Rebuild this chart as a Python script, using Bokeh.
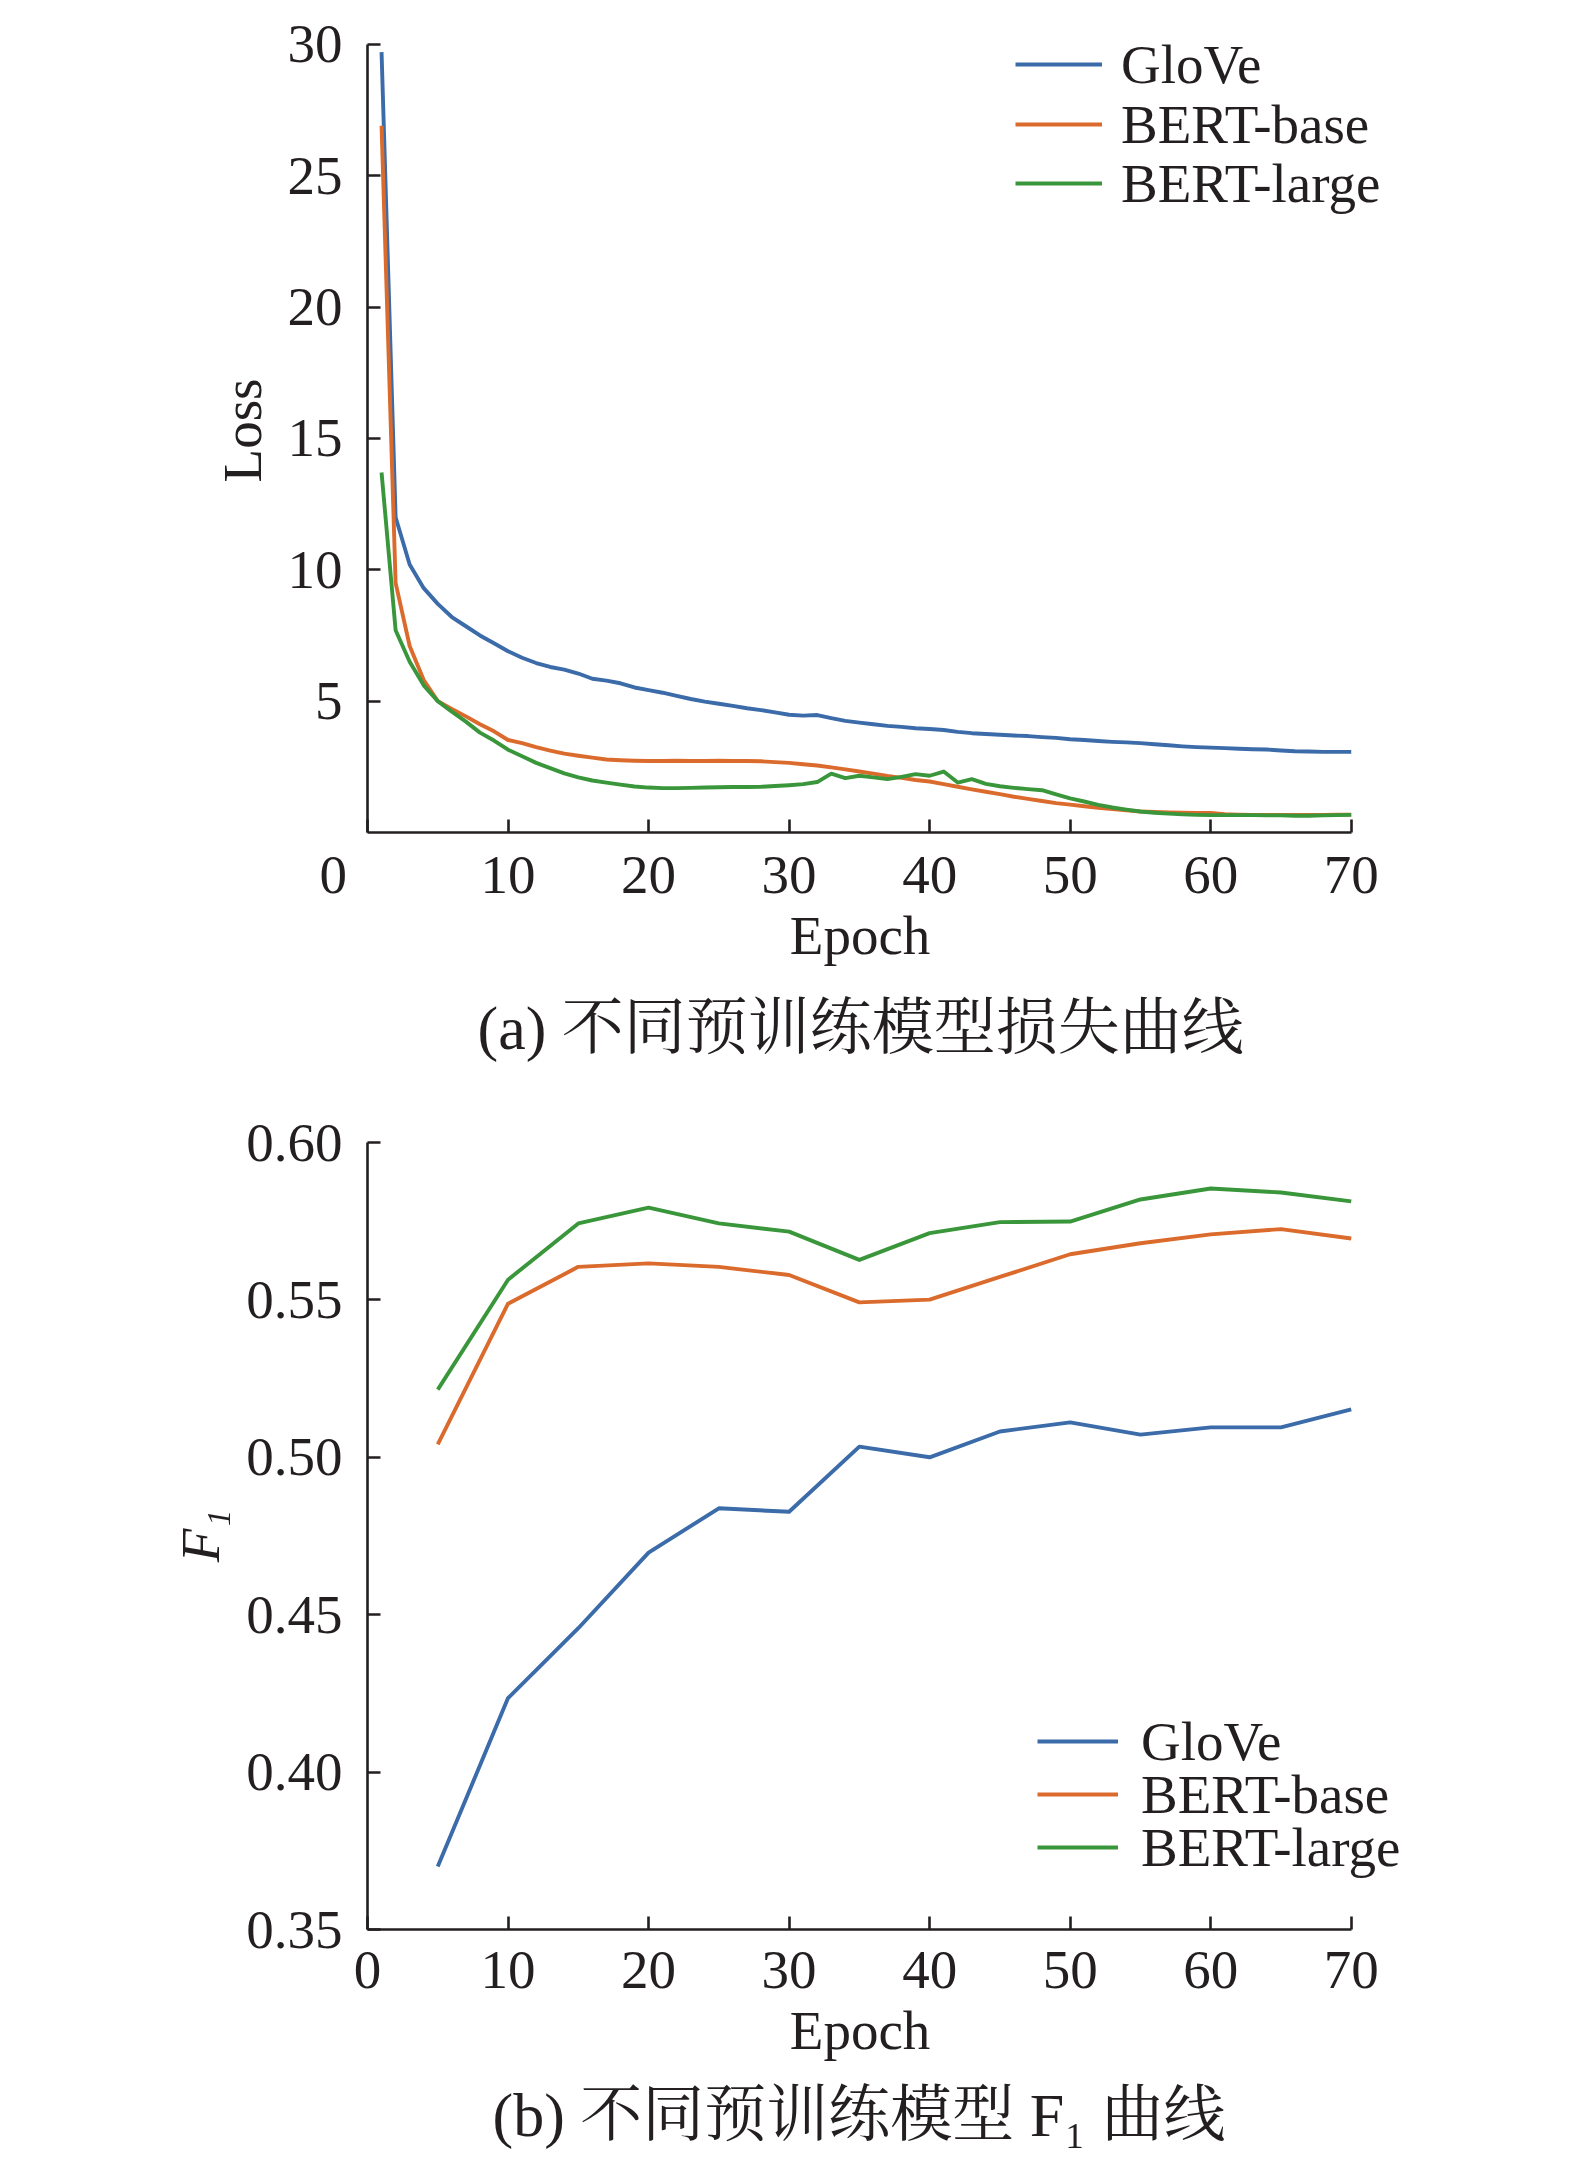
from bokeh.plotting import figure
from bokeh.models import (Legend, LegendItem, FixedTicker, Range1d, Title,
                          ColumnDataSource, PrintfTickFormatter)
from bokeh.layouts import column
from bokeh.embed import file_html
from bokeh.resources import INLINE

# ---------------- data ----------------
epochs_loss = list(range(1, 71))
loss_glove = [29.7, 12.0, 10.2, 9.3, 8.7, 8.2, 7.85, 7.5, 7.2, 6.9,
              6.65, 6.45, 6.3, 6.2, 6.05, 5.85, 5.78, 5.68, 5.52, 5.42,
              5.32, 5.2, 5.08, 4.98, 4.9, 4.82, 4.73, 4.66, 4.57, 4.48,
              4.45, 4.47, 4.35, 4.25, 4.18, 4.12, 4.06, 4.02, 3.97, 3.94,
              3.9, 3.83, 3.78, 3.75, 3.72, 3.69, 3.67, 3.63, 3.6, 3.55,
              3.52, 3.48, 3.45, 3.43, 3.4, 3.36, 3.32, 3.28, 3.25, 3.23,
              3.21, 3.19, 3.17, 3.16, 3.12, 3.09, 3.08, 3.07, 3.07, 3.07]
loss_bert_base = [26.9, 9.5, 7.1, 5.8, 5.0, 4.7, 4.42, 4.12, 3.85, 3.52,
                  3.4, 3.25, 3.12, 3.0, 2.92, 2.85, 2.78, 2.75, 2.73, 2.72,
                  2.72, 2.73, 2.72, 2.72, 2.73, 2.72, 2.72, 2.71, 2.68, 2.65,
                  2.6, 2.55, 2.48, 2.4, 2.32, 2.24, 2.15, 2.08, 2.0, 1.94,
                  1.84, 1.74, 1.64, 1.55, 1.46, 1.36, 1.28, 1.2, 1.12, 1.06,
                  1.0, 0.94, 0.89, 0.84, 0.8, 0.78, 0.76, 0.75, 0.74, 0.74,
                  0.7, 0.68, 0.67, 0.67, 0.67, 0.67, 0.67, 0.67, 0.68, 0.68]
loss_bert_large = [13.7, 7.7, 6.5, 5.6, 5.0, 4.6, 4.22, 3.8, 3.5, 3.15,
                   2.9, 2.65, 2.45, 2.25, 2.1, 1.98, 1.9, 1.82, 1.75, 1.71,
                   1.69, 1.69, 1.7, 1.71, 1.72, 1.73, 1.73, 1.74, 1.77, 1.8,
                   1.84, 1.92, 2.24, 2.07, 2.16, 2.1, 2.03, 2.12, 2.22, 2.16,
                   2.32, 1.9, 2.03, 1.85, 1.76, 1.7, 1.65, 1.61, 1.45, 1.3,
                   1.18, 1.05, 0.95, 0.87, 0.8, 0.75, 0.72, 0.69, 0.67, 0.66,
                   0.66, 0.66, 0.66, 0.65, 0.65, 0.64, 0.64, 0.65, 0.66, 0.67]

epochs_f1 = [5, 10, 15, 20, 25, 30, 35, 40, 45, 50, 55, 60, 65, 70]
f1_glove = [0.370, 0.4235, 0.4457, 0.4697, 0.4838, 0.4827, 0.5034, 0.5000,
            0.5082, 0.5111, 0.5072, 0.5095, 0.5095, 0.5152]
f1_bert_base = [0.5041, 0.5488, 0.5605, 0.5616, 0.5605, 0.5579, 0.5492,
                0.5501, 0.5573, 0.5645, 0.5680, 0.5708, 0.5725, 0.5695]
f1_bert_large = [0.5215, 0.5564, 0.5743, 0.5793, 0.5743, 0.5717, 0.5627,
                 0.5712, 0.5747, 0.5749, 0.5819, 0.5854, 0.5841, 0.5813]

series_names = ["GloVe", "BERT-base", "BERT-large"]
colors = ["#3B6BA8", "#DB6B2C", "#3A963A"]

loss_xticks = [0, 10, 20, 30, 40, 50, 60, 70]
loss_yticks = [5, 10, 15, 20, 25, 30]
f1_xticks = [0, 10, 20, 30, 40, 50, 60, 70]
f1_yticks = [0.35, 0.40, 0.45, 0.50, 0.55, 0.60]

caption_a = "(a) 不同预训练模型损失曲线"
caption_b = "(b) 不同预训练模型 F₁ 曲线"

# ---------------- style ----------------
SERIF = "Liberation Serif"
CAPFONT = "Liberation Serif, Noto Serif CJK SC, Noto Sans CJK SC"
INK = "#231f20"
TICK_FS = "55px"
LABEL_FS = "55px"
NB = "\u00a0"


def style_axes(p, xbounds, ybounds, tick_standoff, label_standoff):
    p.grid.visible = False
    p.outline_line_color = None
    p.background_fill_color = "white"
    p.border_fill_color = "white"
    for ax in (p.xaxis[0], p.yaxis[0]):
        ax.axis_line_color = INK
        ax.axis_line_width = 2.6
        ax.major_tick_line_color = INK
        ax.major_tick_line_width = 2.6
        ax.major_tick_in = 13
        ax.major_tick_out = 0
        ax.minor_tick_line_color = None
        ax.major_label_text_font = SERIF
        ax.major_label_text_font_size = TICK_FS
        ax.major_label_text_color = INK
        ax.axis_label_text_font = SERIF
        ax.axis_label_text_font_size = LABEL_FS
        ax.axis_label_text_color = INK
        ax.axis_label_text_font_style = "normal"
    p.xaxis[0].bounds = xbounds
    p.yaxis[0].bounds = ybounds
    p.xaxis[0].major_label_standoff = tick_standoff
    p.yaxis[0].major_label_standoff = 25
    p.xaxis[0].axis_label_standoff = label_standoff
    p.yaxis[0].axis_label_standoff = 12
    # axis label centred over the 0..70 axis, not the wider frame
    p.xaxis[0].axis_label = "Epoch" + NB * 5


def add_legends(p, renderers, x, centers, glyph_w, standoff):
    row_h = 66
    for n, r, cy in zip(series_names, renderers, centers):
        lg = Legend(items=[LegendItem(label=n, renderers=[r])],
                    location=(x, cy - row_h // 2), glyph_width=glyph_w,
                    glyph_height=row_h, label_height=row_h,
                    label_standoff=standoff, spacing=0, padding=0, margin=0,
                    border_line_color=None, background_fill_alpha=0,
                    label_text_font=SERIF, label_text_font_size="55px",
                    label_text_color=INK)
        p.add_layout(lg)


def add_caption(p, text, offset, standoff):
    p.add_layout(Title(text=text, align="left", offset=offset, standoff=standoff,
                       text_font=CAPFONT, text_font_size="62px",
                       text_font_style="normal", text_color=INK), "below")


# ---------------- (a) loss ----------------
p1 = figure(frame_width=1054, frame_height=804, min_border_left=367,
            min_border_right=100, min_border_top=28, min_border_bottom=268,
            x_range=Range1d(0, 75), y_range=Range1d(0, 30.6),
            output_backend="svg", toolbar_location=None)
style_axes(p1, (0, 70), (0, 30), 11, -3)
p1.xaxis[0].ticker = FixedTicker(ticks=loss_xticks)
p1.xaxis[0].major_label_overrides = {0: "0" + NB * 5}
p1.yaxis[0].ticker = FixedTicker(ticks=loss_yticks)
p1.yaxis[0].axis_label = "Loss"

src1 = ColumnDataSource(dict(epoch=epochs_loss, glove=loss_glove,
                             base=loss_bert_base, large=loss_bert_large))
r1 = []
for col, c in zip(["glove", "base", "large"], colors):
    r1.append(p1.line("epoch", col, source=src1, line_color=c, line_width=3.9,
                      line_join="round"))
add_legends(p1, r1, 648, [768, 708, 649], 87, 19)
add_caption(p1, caption_a, 110, 46)

# ---------------- (b) F1 ----------------
p2 = figure(frame_width=1054, frame_height=787, min_border_left=367,
            min_border_right=100, min_border_top=42, min_border_bottom=240,
            x_range=Range1d(0, 75), y_range=Range1d(0.35, 0.60),
            output_backend="svg", toolbar_location=None)
style_axes(p2, (0, 70), (0.35, 0.60), 22, 9)
p2.xaxis[0].ticker = FixedTicker(ticks=f1_xticks)
p2.yaxis[0].ticker = FixedTicker(ticks=f1_yticks)
p2.yaxis[0].formatter = PrintfTickFormatter(format="%.2f")
p2.yaxis[0].axis_label = "F₁"
p2.yaxis[0].axis_label_text_font_style = "italic"

src2 = ColumnDataSource(dict(epoch=epochs_f1, glove=f1_glove,
                             base=f1_bert_base, large=f1_bert_large))
r2 = []
for col, c in zip(["glove", "base", "large"], colors):
    r2.append(p2.line("epoch", col, source=src2, line_color=c, line_width=3.9,
                      line_join="round"))
add_legends(p2, r2, 670, [188, 135, 82], 81, 23)
add_caption(p2, caption_b, 125, 30)

layout = column(p1, p2, spacing=0)
open("out.html", "w").write(file_html(layout, INLINE))
